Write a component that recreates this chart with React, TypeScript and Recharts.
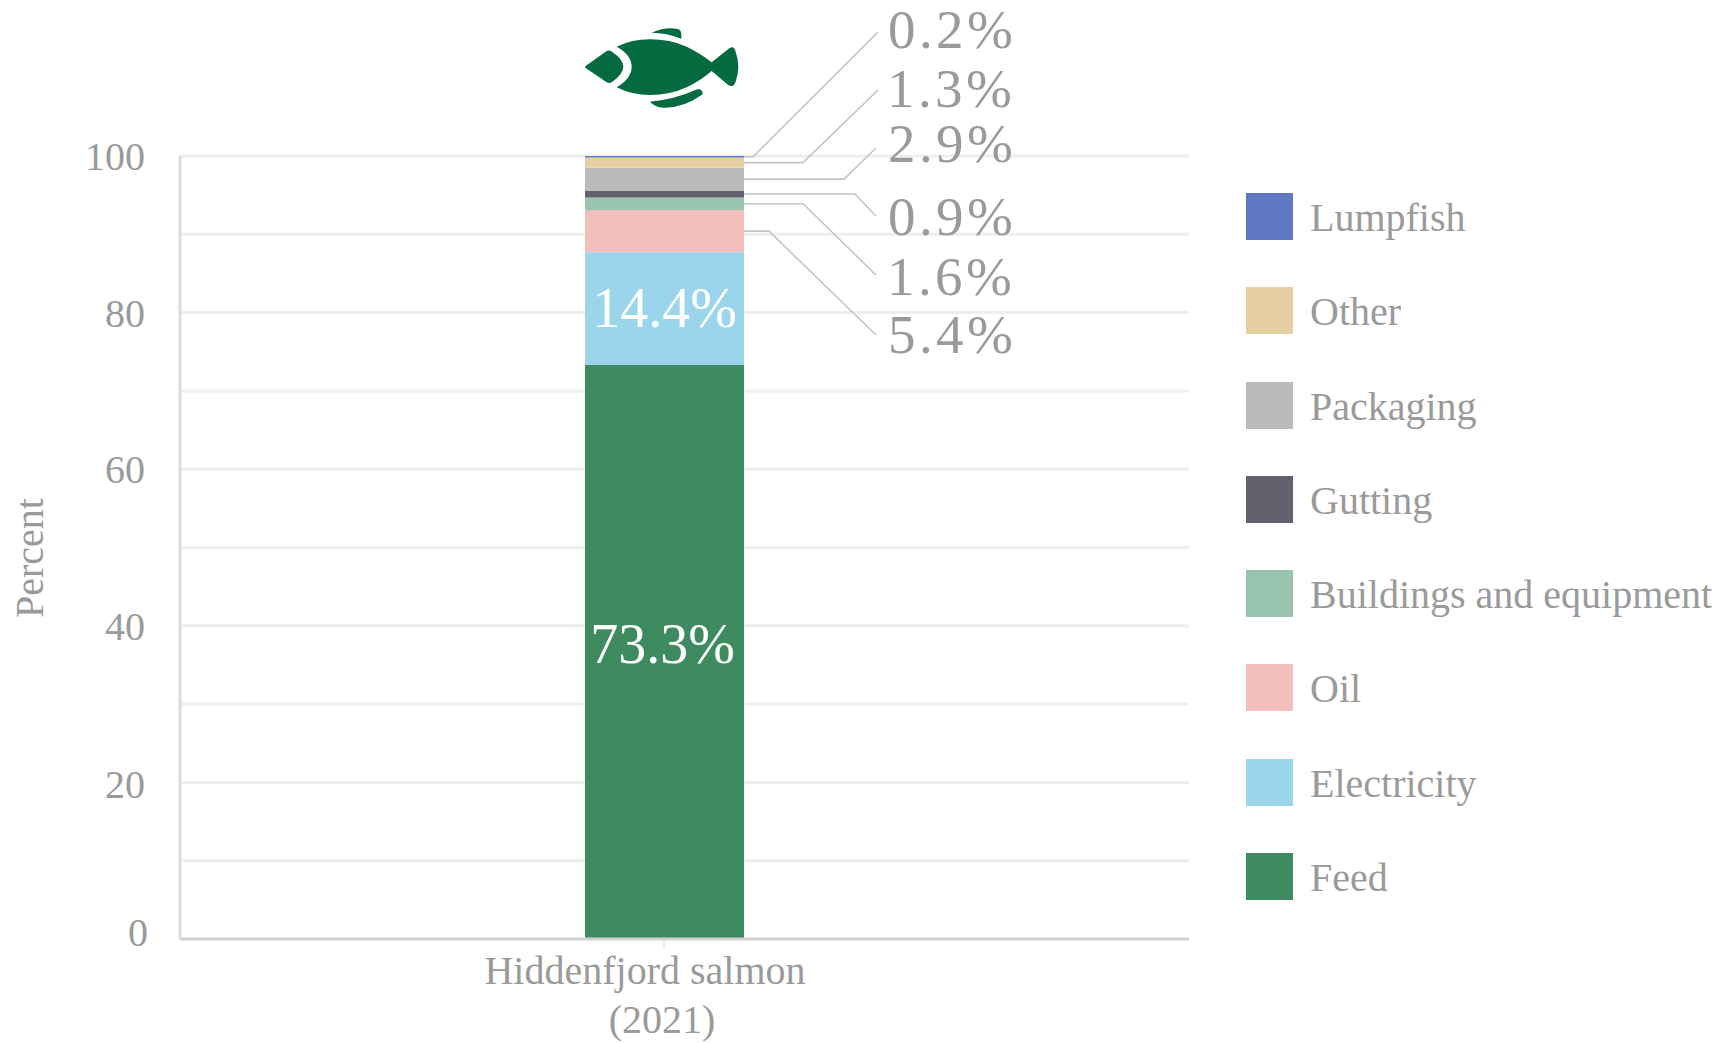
import React from "react";
import { BarChart, Bar, XAxis, YAxis, CartesianGrid, Legend, LabelList, Label } from "recharts";

const categories = ["Hiddenfjord salmon\n(2021)"];
const seriesNames = ["Feed", "Electricity", "Oil", "Buildings and equipment", "Gutting", "Packaging", "Other", "Lumpfish"];
const seriesValues = [73.3, 14.4, 5.4, 1.6, 0.9, 2.9, 1.3, 0.2];
const seriesColors = ["#3F8B60", "#9BD5EC", "#F3BFBD", "#98C3AE", "#62626E", "#BABABA", "#E6D0A1", "#6078C4"];
const yTicks = [0, 20, 40, 60, 80, 100];
const gridValues = [10, 20, 30, 40, 50, 60, 70, 80, 90, 100];

const rows = categories.map((name) => {
  const row: Record<string, string | number> = { name };
  seriesNames.forEach((s, i) => { row[s] = seriesValues[i]; });
  return row;
});

const FONT = "'Liberation Serif', 'Times New Roman', serif";
const GREY = "#9A9A9A";

// Callout layout, in page pixels, keyed by series
const callouts: Record<string, { elbow: number; endX: number; endY: number; textX: number; baseline: number }> = {
  Lumpfish: { elbow: 753, endX: 878, endY: 32, textX: 888, baseline: 48 },
  Other: { elbow: 803, endX: 878, endY: 90, textX: 887, baseline: 107 },
  Packaging: { elbow: 844, endX: 876, endY: 148, textX: 888, baseline: 162 },
  Gutting: { elbow: 855, endX: 876, endY: 216, textX: 888, baseline: 235 },
  "Buildings and equipment": { elbow: 803, endX: 876, endY: 275, textX: 887, baseline: 295 },
  Oil: { elbow: 769, endX: 876, endY: 335, textX: 888, baseline: 353 },
};

const makeLabel = (series: string) => (props: any) => {
  const x = Number(props.x), y = Number(props.y), w = Number(props.width), h = Number(props.height);
  const text = `${props.value}%`;
  const c = callouts[series];
  if (!c) {
    const isFeed = series === "Feed";
    return (
      <text x={x + w / 2 - (isFeed ? 2 : 0)} y={y + h / 2 + (isFeed ? 11 : 18)} textAnchor="middle" fill="#fff" fontFamily={FONT} fontSize={56}>
        {text}
      </text>
    );
  }
  const mid = y + h / 2;
  return (
    <g>
      <polyline points={`${x + w},${mid} ${c.elbow},${mid} ${c.endX},${c.endY}`} fill="none" stroke="#C4C4C4" strokeWidth={1.6} />
      <text x={c.textX} y={c.baseline} fill={GREY} fontFamily={FONT} fontSize={55} letterSpacing={3.4}>{text}</text>
    </g>
  );
};

const YTick = (props: any) => {
  const { x, y, payload } = props;
  const isZero = payload.value === 0;
  const shift = isZero ? 7 : payload.value === 20 ? 16 : 14;
  return (
    <text x={x + (isZero ? 3 : 0)} y={y + shift} textAnchor="end" fill={GREY} fontFamily={FONT} fontSize={40}>
      {payload.value}
    </text>
  );
};

const XTick = (props: any) => {
  const { x, payload } = props;
  const [first, second] = String(payload.value).split("\n");
  return (
    <g fill={GREY} fontFamily={FONT} fontSize={40} textAnchor="middle">
      <text x={x - 19} y={984}>{first}</text>
      <text x={x - 2} y={1033}>{second}</text>
    </g>
  );
};

const LegendContent = (props: any) => {
  const items = [...(props.payload || [])].sort(
    (a: any, b: any) => seriesNames.indexOf(b.value) - seriesNames.indexOf(a.value)
  );
  return (
    <div style={{ position: "absolute", left: 1246, top: 193, fontFamily: FONT, fontSize: 40, color: GREY }}>
      {items.map((it: any) => (
        <div key={it.value} style={{ height: 94.3, position: "relative", whiteSpace: "nowrap" }}>
          <div style={{ position: "absolute", left: 0, top: 0, width: 47, height: 47, background: it.color }} />
          <div style={{ position: "absolute", left: 64, top: 2, lineHeight: "46px" }}>{it.value}</div>
        </div>
      ))}
    </div>
  );
};

const FishIcon = () => (
  <svg width={1722} height={200} style={{ position: "absolute", left: 0, top: 0, pointerEvents: "none" }}>
    <g transform="translate(560,0) scale(0.3333)" fill="#046A3F">
      <path d="M78 197 L140 153 Q148 149 156 155 Q190 178 190 200 Q190 222 156 246 Q148 252 140 247 L78 205 Q72 201 78 197Z" />
      <path d="M170 140 Q215 118 270 118 Q330 118 380 140 Q425 162 455 187 L508 145 Q522 136 527 155 Q543 200 527 245 Q520 265 505 255 L455 213 Q425 240 380 262 Q330 285 270 285 Q215 285 170 262 Q215 235 215 200 Q215 165 170 140Z" />
      <path d="M275 98 Q320 78 356 88 Q366 92 364 116 Q320 98 275 98Z" />
      <path d="M270 305 Q340 300 412 268 Q428 266 428 283 Q370 325 310 323 Q285 322 270 305Z" />
    </g>
  </svg>
);

export default function App() {
  return (
    <div style={{ position: "absolute", left: 0, top: 0, width: 1722, height: 1043, overflow: "hidden", background: "#fff" }}>
      <BarChart
        width={1722}
        height={1043}
        data={rows}
        margin={{ top: 156, right: 533, bottom: 0, left: 0 }}
      >
        <CartesianGrid vertical={false} stroke="#EEEEEE" strokeWidth={3} horizontalValues={gridValues} />
        <XAxis
          dataKey="name"
          padding={{ left: 0, right: 41 }}
          axisLine={{ stroke: "#D2D2D2", strokeWidth: 3 }}
          tickLine={{ stroke: "#D8D8D8", strokeWidth: 1 }}
          tickSize={9}
          tick={<XTick />}
          height={104}
          interval={0}
        />
        <YAxis
          type="number"
          domain={[0, 100]}
          ticks={yTicks}
          width={180}
          axisLine={{ stroke: "#DCDCDC", strokeWidth: 3 }}
          tickLine={false}
          tickMargin={29}
          tick={<YTick />}
        >
          <Label value="Percent" angle={-90} position="insideLeft" offset={0}
            content={() => (
              <text x={43} y={558} transform="rotate(-90 43 558)" textAnchor="middle" fill={GREY} fontFamily={FONT} fontSize={40}>Percent</text>
            )}
          />
        </YAxis>
        {seriesNames.map((s, i) => (
          <Bar key={s} dataKey={s} name={s} stackId="a" fill={seriesColors[i]} barSize={159} isAnimationActive={false}>
            <LabelList dataKey={s} content={makeLabel(s)} />
          </Bar>
        ))}
        <Legend itemSorter={null as any} content={<LegendContent />} wrapperStyle={{ position: "absolute", left: 0, top: 0, width: 0, height: 0 }} />
      </BarChart>
      <FishIcon />
    </div>
  );
}
